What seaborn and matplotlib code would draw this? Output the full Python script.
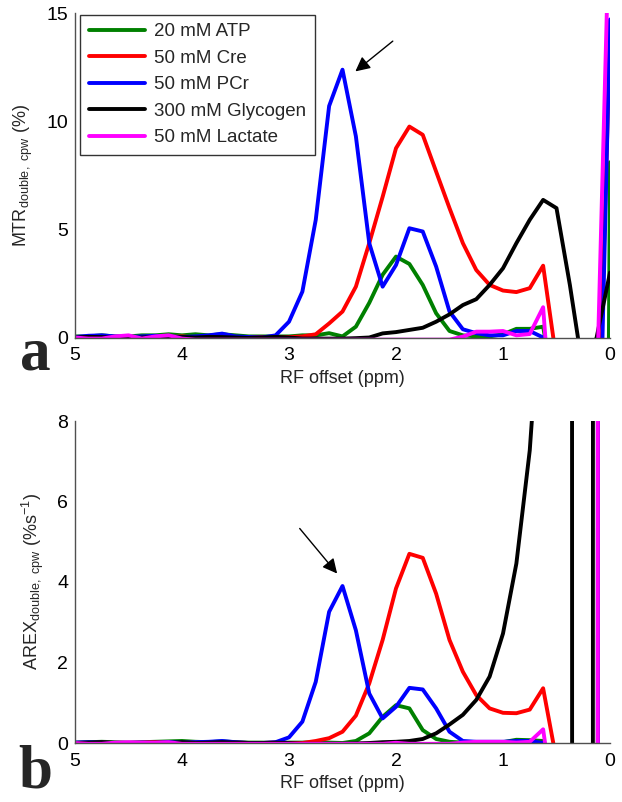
import numpy as np
import pandas as pd
import matplotlib
matplotlib.use("Agg")
import matplotlib.pyplot as plt
import seaborn as sns

# ---------------- data ----------------
ppm = [5.0, 4.875, 4.75, 4.625, 4.5, 4.375, 4.25, 4.125, 4.0, 3.875, 3.75, 3.625, 3.5, 3.375,
       3.25, 3.125, 3.0, 2.875, 2.75, 2.625, 2.5, 2.375, 2.25, 2.125, 2.0, 1.875, 1.75, 1.625,
       1.5, 1.375, 1.25, 1.125, 1.0, 0.875, 0.75, 0.625, 0.5, 0.375, 0.25, 0.125, 0.0]

series_names = ["20 mM ATP", "50 mM Cre", "50 mM PCr", "300 mM Glycogen", "50 mM Lactate"]
series_colors = ["#008000", "#ff0000", "#0000ff", "#000000", "#ff00ff"]

# panel a: MTR_double,cpw (%)
mtr_atp = [0.05, 0.05, 0.1, 0.05, 0.05, 0.1, 0.1, 0.15, 0.1, 0.15, 0.1, 0.15, 0.1, 0.05,
           0.05, 0.05, 0.05, 0.1, 0.1, 0.2, 0.05, 0.5, 1.6, 2.9, 3.74, 3.4, 2.43, 1.12,
           0.3, 0.1, 0.05, 0.05, 0.15, 0.4, 0.4, 0.5, -3.0, -5.0, -10.0, -90.0, 8.1]
mtr_cre = [0.02, 0.0, 0.05, 0.02, 0.0, 0.03, 0.0, 0.02, 0.05, 0.0, 0.02, 0.0, 0.03, 0.0,
           0.02, 0.0, 0.02, 0.05, 0.15, 0.65, 1.2, 2.35, 4.36, 6.5, 8.75, 9.75, 9.37, 7.67,
           5.98, 4.36, 3.12, 2.43, 2.17, 2.1, 2.28, 3.32, -1.05, -3.0, -5.0, -8.0, 14.0]
mtr_pcr = [0.02, 0.08, 0.1, 0.05, 0.02, 0.05, 0.08, 0.05, 0.02, 0.05, 0.1, 0.18, 0.05, 0.02,
           0.0, 0.1, 0.73, 2.12, 5.44, 10.7, 12.38, 9.3, 4.36, 2.35, 3.35, 5.05, 4.9, 3.28,
           1.2, 0.38, 0.2, 0.1, 0.1, 0.3, 0.3, 0.0, -3.0, -5.0, -8.0, -11.5, 14.7]
mtr_gly = [0.0, 0.03, 0.02, 0.0, -0.02, 0.0, 0.03, 0.0, 0.02, 0.0, 0.03, 0.02, 0.0, -0.02,
           0.0, 0.03, 0.0, -0.05, -0.05, -0.05, -0.05, -0.03, 0.0, 0.19, 0.25, 0.35, 0.45, 0.73,
           1.07, 1.5, 1.77, 2.43, 3.2, 4.36, 5.44, 6.36, 5.98, 2.43, -1.6, 0.0, 3.0]
mtr_lac = [0.0, -0.05, -0.05, 0.05, 0.1, -0.05, 0.05, 0.1, -0.05, -0.1, -0.1, -0.1, -0.1, -0.1,
           -0.1, -0.1, -0.1, -0.1, -0.1, -0.1, -0.1, -0.1, -0.1, -0.1, -0.1, -0.1, -0.1, -0.1,
           -0.1, 0.04, 0.27, 0.27, 0.3, 0.1, 0.16, 1.4, -7.0, -6.0, -5.0, -2.8, 20.6]

# panel b: AREX_double,cpw (%/s)
arex_atp = [0.01, 0.02, 0.03, 0.02, 0.01, 0.02, 0.03, 0.04, 0.05, 0.03, 0.02, 0.04, 0.02, 0.01,
            0.01, 0.0, 0.01, 0.01, 0.02, 0.01, 0.0, 0.05, 0.24, 0.65, 0.94, 0.86, 0.32, 0.1,
            0.03, 0.01, 0.0, 0.0, 0.02, 0.08, 0.07, 0.05, -0.5, -1.0, -3.0, -300.0, 3000.0]
arex_cre = [0.0, 0.0, 0.01, 0.0, 0.0, 0.01, 0.02, 0.0, 0.0, 0.01, 0.0, 0.0, 0.01, 0.0,
            0.0, 0.01, 0.0, 0.0, 0.05, 0.12, 0.28, 0.68, 1.48, 2.56, 3.84, 4.7, 4.6, 3.71,
            2.56, 1.77, 1.19, 0.86, 0.75, 0.74, 0.83, 1.36, -0.43, -1.0, -3.0, -300.0, 3000.0]
arex_pcr = [0.01, 0.02, 0.01, 0.0, 0.0, 0.01, 0.0, 0.02, 0.01, 0.02, 0.03, 0.05, 0.02, 0.0,
            0.0, 0.02, 0.14, 0.53, 1.52, 3.26, 3.9, 2.8, 1.23, 0.61, 0.9, 1.37, 1.33, 0.86,
            0.28, 0.05, 0.03, 0.03, 0.03, 0.05, 0.05, 0.0, -0.8, -1.5, -3.0, -300.0, 3000.0]
arex_gly = [0.0, 0.01, 0.02, 0.0, 0.0, 0.0, 0.01, 0.0, 0.02, 0.0, 0.01, 0.02, 0.01, 0.0,
            0.0, 0.01, 0.0, -0.02, -0.02, -0.02, -0.02, -0.01, 0.0, 0.02, 0.03, 0.05, 0.1, 0.24,
            0.46, 0.7, 1.07, 1.65, 2.72, 4.46, 7.27, 12.0, 1000.0, 300.0, -1500.0, 583.0, 800.0]
arex_lac = [0.0, -0.02, -0.02, 0.01, 0.02, 0.01, 0.01, 0.02, -0.02, -0.02, -0.02, -0.02, -0.02, -0.02,
            -0.02, -0.02, -0.02, -0.02, -0.02, -0.02, -0.02, -0.02, -0.02, -0.02, 0.005, -0.02, -0.02, -0.02,
            -0.02, 0.01, 0.03, 0.03, 0.03, 0.01, 0.03, 0.34, -2.0, -3.0, -3.0, -300.0, 3000.0]

x_ticks = [5, 4, 3, 2, 1, 0]
y_ticks_a = [0, 5, 10, 15]
y_ticks_b = [0, 2, 4, 6, 8]


def long_frame(cols):
    rows = []
    for name, vals in zip(series_names, cols):
        for p, v in zip(ppm, vals):
            rows.append({"ppm": p, "val": v, "series": name})
    return pd.DataFrame(rows)


df_a = long_frame([mtr_atp, mtr_cre, mtr_pcr, mtr_gly, mtr_lac])
df_b = long_frame([arex_atp, arex_cre, arex_pcr, arex_gly, arex_lac])
palette = dict(zip(series_names, series_colors))

# ---------------- style ----------------
sns.set_theme(style="white")
plt.rcParams["font.family"] = ["Liberation Sans", "DejaVu Sans"]
plt.rcParams["mathtext.fontset"] = "custom"
plt.rcParams["mathtext.rm"] = "Liberation Sans"
plt.rcParams["mathtext.it"] = "Liberation Sans:italic"
plt.rcParams["mathtext.bf"] = "Liberation Sans:bold"

fig = plt.figure(figsize=(6.22, 8.02), dpi=100)
ax1 = fig.add_axes([75 / 622, 1 - 337.5 / 802, 535 / 622, 324.5 / 802])
ax2 = fig.add_axes([75 / 622, 1 - 743 / 802, 535 / 622, 322 / 802])

LW = 2.8
sns.lineplot(data=df_a, x="ppm", y="val", hue="series", hue_order=series_names,
             palette=palette, estimator=None, sort=False, linewidth=LW, ax=ax1)
sns.lineplot(data=df_b, x="ppm", y="val", hue="series", hue_order=series_names,
             palette=palette, estimator=None, sort=False, linewidth=LW, ax=ax2, legend=False)

for ax, yt in ((ax1, y_ticks_a), (ax2, y_ticks_b)):
    ax.set_xlim(5, 0)
    ax.set_ylim(yt[0], yt[-1])
    ax.set_xticks(x_ticks)
    ax.set_xticklabels([str(t) for t in x_ticks])
    ax.set_yticks(yt)
    ax.set_yticklabels([str(t) for t in yt])
    for s in ("top", "right"):
        ax.spines[s].set_visible(False)
    for s in ("left", "bottom"):
        ax.spines[s].set_color("#505050")
        ax.spines[s].set_linewidth(1.0)
    ax.tick_params(direction="in", length=4, width=1, color="#505050",
                   labelsize=14, labelcolor="black")
    ax.tick_params(axis="x", pad=7)
    ax.tick_params(axis="y", pad=5)
    ax.set_xlabel("RF offset (ppm)", fontsize=13, labelpad=4)
    ax.patch.set_alpha(0)

ax1.set_ylabel(r"MTR$_{\mathrm{double,\ cpw}}$ (%)", fontsize=13, labelpad=8)
ax2.set_ylabel(r"AREX$_{\mathrm{double,\ cpw}}$ (%s$^{-1}$)", fontsize=13, labelpad=8)

handles, labels = ax1.get_legend_handles_labels()
for h in handles:
    h.set_linewidth(LW)
leg = ax1.legend(handles, labels, loc="upper left", bbox_to_anchor=(0.01, 0.995),
                 borderaxespad=0, fontsize=13.5, handlelength=3.0, labelspacing=0.5,
                 fancybox=False, frameon=True, borderpad=0.45, handletextpad=0.5)
leg.get_frame().set_edgecolor("black")
leg.get_frame().set_linewidth(1.0)

# arrows
ax1.annotate("", xy=(2.38, 12.3), xytext=(2.03, 13.7),
             arrowprops=dict(arrowstyle="-|>", color="black", lw=1.0,
                             mutation_scale=22, shrinkA=0, shrinkB=0))
ax2.annotate("", xy=(2.55, 4.21), xytext=(2.9, 5.33),
             arrowprops=dict(arrowstyle="-|>", color="black", lw=1.0,
                             mutation_scale=22, shrinkA=0, shrinkB=0))

# panel letters
fig.text(20 / 622, 1 - 370 / 802, "a", fontsize=44, fontweight="bold",
         family="Liberation Serif", va="baseline", ha="left")
fig.text(18 / 622, 1 - 787 / 802, "b", fontsize=44, fontweight="bold",
         family="Liberation Serif", va="baseline", ha="left")

fig.savefig("out.png", dpi=100)
